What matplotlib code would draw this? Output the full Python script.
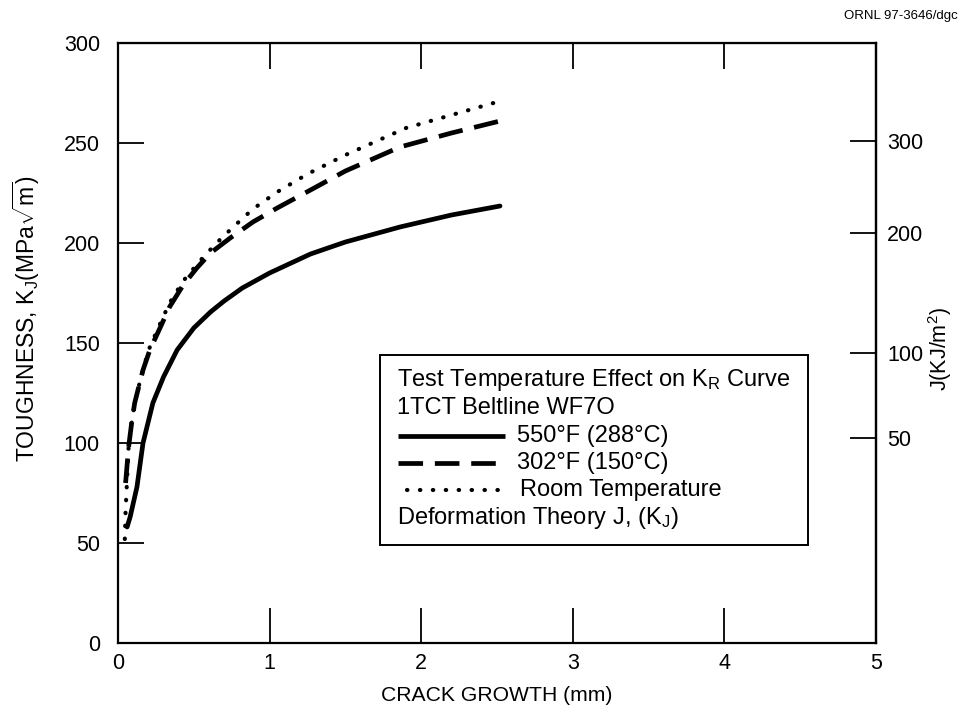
import numpy as np
import matplotlib
matplotlib.use('Agg')
import matplotlib.pyplot as plt
from matplotlib.lines import Line2D
from matplotlib.patches import Rectangle

plt.rcParams['font.family'] = ['Liberation Sans', 'DejaVu Sans']
plt.rcParams['mathtext.fontset'] = 'custom'
plt.rcParams['mathtext.rm'] = 'Liberation Sans'
plt.rcParams['mathtext.it'] = 'Liberation Sans'

# K-R curves, crack growth (mm) vs toughness K_J (MPa sqrt(m))
da_550 = [0.06, 0.08, 0.125, 0.165, 0.23, 0.30, 0.39, 0.50, 0.61, 0.70, 0.82, 1.0, 1.27, 1.5, 1.86, 2.2, 2.52]
k_550 = [58, 63, 78, 100, 120, 133, 146.5, 157.5, 165.5, 171, 177.5, 185, 194.5, 200.5, 208, 214, 218.5]

da_302 = [0.05, 0.07, 0.09, 0.11, 0.165, 0.21, 0.28, 0.34, 0.43, 0.52, 0.61, 0.74, 0.89, 1.05, 1.27, 1.5, 1.86, 2.2, 2.52]
k_302 = [80, 98, 110, 120, 136.5, 146.5, 158, 168, 179, 187.5, 195, 202.5, 210.5, 217.5, 226.5, 236, 248, 255, 261]

da_rt = [0.045, 0.05, 0.07, 0.09, 0.11, 0.165, 0.21, 0.28, 0.34, 0.43, 0.54, 0.65, 0.76, 0.89, 1.05, 1.25, 1.5, 1.9, 2.2, 2.5]
k_rt = [52, 66, 98, 110, 120, 137, 148, 160, 170, 181, 191, 200, 208, 217, 225.5, 234.5, 244, 257.5, 264, 270.5]

x_ticks = [0, 1, 2, 3, 4, 5]
y_ticks = [0, 50, 100, 150, 200, 250, 300]
j_ticks = [50, 100, 200, 300]

# plane-strain modulus E/(1-nu^2), MPa -> J (kJ/m^2) = K^2 / E' * 1000
E_PRIME = 2.1e5


def k_to_j(k):
    k = np.asarray(k, dtype=float)
    return np.sign(k) * k ** 2 / E_PRIME * 1000.0


def j_to_k(j):
    j = np.asarray(j, dtype=float)
    return np.sqrt(np.abs(j) * E_PRIME / 1000.0)


fig = plt.figure(figsize=(9.6, 7.17), dpi=100)
ax = fig.add_axes([118 / 960, 74 / 717, 758 / 960, 600 / 717])

lw = 3.4
dash = (5.2, 2.5)
dots = (0, (0.1, 3.0))
ax.plot(da_550, k_550, color='black', lw=lw, solid_capstyle='round', solid_joinstyle='round')
ax.plot(da_302, k_302, color='black', lw=lw, dashes=dash, dash_capstyle='butt')
ax.plot(da_rt, k_rt, color='black', lw=3.0, linestyle=dots, dash_capstyle='round')

tick_fs = 15.5
ax.set_xlim(0, 5)
ax.set_ylim(0, 300)
ax.set_xticks(x_ticks)
ax.set_yticks(y_ticks)
ax.tick_params(axis='x', direction='in', length=25, width=1.3, labelsize=tick_fs, pad=7, top=False)
ax.tick_params(axis='y', direction='in', length=19, width=1.3, labelsize=tick_fs, pad=13, right=False)
for s in ax.spines.values():
    s.set_linewidth(1.6)

top = ax.secondary_xaxis('top')
top.set_xticks([1, 2, 3, 4])
top.tick_params(direction='in', length=19, width=1.3, labeltop=False)
top.set_xticklabels([])

right = ax.secondary_yaxis('right', functions=(k_to_j, j_to_k))
right.set_yticks(j_ticks)
right.tick_params(direction='in', length=19, width=1.3, labelsize=tick_fs, pad=8)
right.spines['right'].set_linewidth(1.6)
right.set_ylabel('J(KJ/m$^2$)', fontsize=15.5)
right.yaxis.set_label_coords(1.066, 0.49, transform=ax.transAxes)

ax.set_xlabel('CRACK GROWTH (mm)', fontsize=15.2, labelpad=9)
ax.set_ylabel(r'TOUGHNESS, K$_J$(MPa$\sqrt{m}$)', fontsize=16.5)
ax.yaxis.set_label_coords(-0.10, 0.54)

# legend box drawn by hand, axes-fraction coordinates
ax.add_patch(Rectangle((0.3456, 0.163), 0.5647, 0.317, transform=ax.transAxes,
                       fill=False, edgecolor='black', lw=1.4, zorder=5))
fs = 17
tx = 0.368
ax.text(tx, 0.438, 'Test Temperature Effect on K$_R$ Curve', transform=ax.transAxes,
        fontsize=fs, va='center')
ax.text(tx, 0.392, '1TCT Beltline WF7O', transform=ax.transAxes, fontsize=fs, va='center')
items = [
    (0.345, dict(lw=lw, solid_capstyle='butt'), 0.369, 0.526, '550°F (288°C)'),
    (0.300, dict(lw=lw, dashes=dash, dash_capstyle='butt'), 0.369, 0.526, '302°F (150°C)'),
    (0.255, dict(lw=3.0, linestyle=dots, dash_capstyle='round'), 0.381, 0.530, 'Room Temperature'),
]
for yy, style, x0, xt, label in items:
    ax.add_line(Line2D([x0, 0.5106], [yy, yy], color='black', transform=ax.transAxes, **style))
    ax.text(xt, yy, label, transform=ax.transAxes, fontsize=fs, va='center')
ax.text(tx, 0.208, 'Deformation Theory J, (K$_J$)', transform=ax.transAxes,
        fontsize=fs, va='center')

fig.text(0.998, 0.978, 'ORNL 97-3646/dgc', ha='right', va='center', fontsize=9.5)

fig.savefig('out.png', dpi=100, facecolor='white')
